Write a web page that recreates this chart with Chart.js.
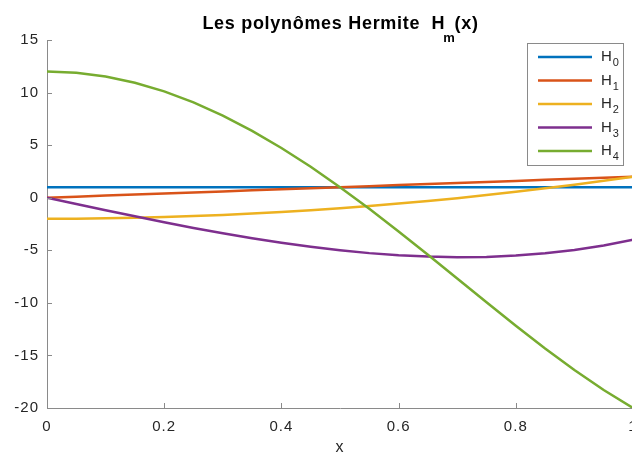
<!DOCTYPE html>
<html>
<head>
<meta charset="utf-8">
<script src="https://cdn.jsdelivr.net/npm/chart.js@4.4.0/dist/chart.umd.min.js"></script>
<style>
html, body { margin: 0; padding: 0; background: #fff; overflow: hidden; }
#hermite { display: block; }
</style>
</head>
<body>
<canvas id="hermite" width="640" height="452"></canvas>
<script>
// values, x from 0 to 1
var xValues = [0, 0.05, 0.1, 0.15, 0.2, 0.25, 0.3, 0.35, 0.4, 0.45, 0.5,
  0.55, 0.6, 0.65, 0.7, 0.75, 0.8, 0.85, 0.9, 0.95, 1];
var h0 = [1, 1, 1, 1, 1, 1, 1, 1, 1, 1, 1, 1, 1, 1, 1, 1, 1, 1, 1, 1, 1];
var h1 = [0, 0.1, 0.2, 0.3, 0.4, 0.5, 0.6, 0.7, 0.8, 0.9, 1,
  1.1, 1.2, 1.3, 1.4, 1.5, 1.6, 1.7, 1.8, 1.9, 2];
var h2 = [-2, -1.99, -1.96, -1.91, -1.84, -1.75, -1.64, -1.51, -1.36, -1.19, -1,
  -0.79, -0.56, -0.31, -0.04, 0.25, 0.56, 0.89, 1.24, 1.61, 2];
var h3 = [0, -0.6, -1.19, -1.77, -2.34, -2.88, -3.38, -3.86, -4.29, -4.67, -5,
  -5.27, -5.47, -5.6, -5.66, -5.63, -5.5, -5.29, -4.97, -4.54, -4];
var h4 = [12, 11.88, 11.52, 10.93, 10.11, 9.06, 7.81, 6.36, 4.73, 2.94, 1,
  -1.06, -3.21, -5.42, -7.68, -9.94, -12.17, -14.33, -16.38, -18.29, -20];

var seriesValues = [h0, h1, h2, h3, h4];
var seriesSubs = ["0", "1", "2", "3", "4"];
var seriesColors = ["#0072BD", "#D95319", "#EDB120", "#7E2F8E", "#77AC30"];

var FONT = "'Liberation Sans', Arial, Helvetica, sans-serif";
var AXIS_COLOR = "#8a8a8a";
var TEXT_COLOR = "#262626";

var datasets = [];
for (var i = 0; i < seriesValues.length; i++) {
  var pts = [];
  for (var j = 0; j < xValues.length; j++) {
    pts.push({ x: xValues[j], y: seriesValues[i][j] });
  }
  datasets.push({
    label: "H" + seriesSubs[i],
    data: pts,
    borderColor: seriesColors[i],
    backgroundColor: seriesColors[i],
    borderWidth: 2.5,
    pointRadius: 0,
    tension: 0,
    fill: false,
    order: seriesValues.length - i
  });
}

// matlab look: wider text, inward ticks, title with subscript, legend box
var matlabDecor = {
  id: "matlabDecor",
  beforeUpdate: function(chart) {
    chart.ctx.letterSpacing = "1px";
  },
  afterDraw: function(chart) {
    var ctx = chart.ctx;
    var area = chart.chartArea;
    var xs = chart.scales.x;
    var ys = chart.scales.y;
    ctx.save();
    ctx.strokeStyle = AXIS_COLOR;
    ctx.lineWidth = 1;
    ctx.beginPath();
    xs.ticks.forEach(function(t) {
      var px = Math.round(xs.getPixelForValue(t.value)) + 0.5;
      ctx.moveTo(px, area.bottom);
      ctx.lineTo(px, area.bottom - 5);
    });
    ys.ticks.forEach(function(t) {
      var py = Math.round(ys.getPixelForValue(t.value)) + 0.5;
      ctx.moveTo(area.left, py);
      ctx.lineTo(area.left + 5, py);
    });
    ctx.stroke();

    // title
    var mainText = "Les polynômes Hermite  H";
    var sp = 0.7;
    ctx.letterSpacing = sp + "px";
    ctx.fillStyle = "#000";
    ctx.textBaseline = "alphabetic";
    ctx.textAlign = "left";
    ctx.font = "bold 18px " + FONT;
    var w1 = ctx.measureText(mainText).width;
    var w3 = ctx.measureText("(x)").width;
    ctx.font = "bold 13px " + FONT;
    var w2 = ctx.measureText("m").width;
    var tx = (area.left + area.right) / 2 - (w1 + w2 + w3 - 4) / 2;
    ctx.font = "bold 18px " + FONT;
    ctx.fillText(mainText, tx, 29);
    ctx.font = "bold 13px " + FONT;
    ctx.fillText("m", tx + w1 - 2, 42);
    ctx.font = "bold 18px " + FONT;
    ctx.fillText("(x)", tx + w1 + w2 - 3, 29);

    // legend
    ctx.fillStyle = "#fff";
    ctx.fillRect(527.5, 43.5, 96, 122);
    ctx.strokeStyle = "#8a8a8a";
    ctx.lineWidth = 1;
    ctx.strokeRect(527.5, 43.5, 96, 122);
    for (var k = 0; k < seriesSubs.length; k++) {
      var ry = 57 + k * 23.5;
      ctx.strokeStyle = seriesColors[k];
      ctx.lineWidth = 2.5;
      ctx.beginPath();
      ctx.moveTo(538, ry);
      ctx.lineTo(592, ry);
      ctx.stroke();
      ctx.fillStyle = TEXT_COLOR;
      ctx.letterSpacing = "0px";
      ctx.font = "15px " + FONT;
      ctx.fillText("H", 601, ry + 4);
      var hw = ctx.measureText("H").width;
      ctx.font = "11px " + FONT;
      ctx.fillText(seriesSubs[k], 601 + hw + 1, ry + 9);
    }
    ctx.restore();
  }
};

var ctx = document.getElementById("hermite").getContext("2d");
var chart = new Chart(ctx, {
  type: "line",
  data: { datasets: datasets },
  options: {
    responsive: false,
    animation: false,
    devicePixelRatio: 1,
    layout: { padding: { top: 40, right: 7, left: 0, bottom: 0 } },
    plugins: {
      legend: { display: false },
      title: { display: false },
      tooltip: { enabled: false }
    },
    scales: {
      x: {
        type: "linear",
        min: 0,
        max: 1,
        ticks: {
          stepSize: 0.2,
          padding: 10,
          color: TEXT_COLOR,
          font: { family: FONT, size: 15 },
          maxRotation: 0,
          callback: function(v) { return String(Math.round(v * 10) / 10); }
        },
        grid: { display: false, drawTicks: false },
        border: { display: true, color: AXIS_COLOR, width: 1 },
        title: {
          display: true,
          text: "x",
          color: TEXT_COLOR,
          font: { family: FONT, size: 16, lineHeight: 0.6 },
          padding: { top: 0, bottom: 0 }
        },
        afterFit: function(s) {
          s.height = 44;
          s.paddingLeft = 0;
          s.paddingRight = 0;
        }
      },
      y: {
        type: "linear",
        min: -20,
        max: 15,
        ticks: {
          stepSize: 5,
          padding: 8,
          color: TEXT_COLOR,
          font: { family: FONT, size: 15 }
        },
        grid: { display: false, drawTicks: false },
        border: { display: true, color: AXIS_COLOR, width: 1 },
        afterFit: function(s) {
          s.width = 47;
          s.paddingTop = 0;
          s.paddingBottom = 0;
        }
      }
    }
  },
  plugins: [matlabDecor]
});
</script>
</body>
</html>
